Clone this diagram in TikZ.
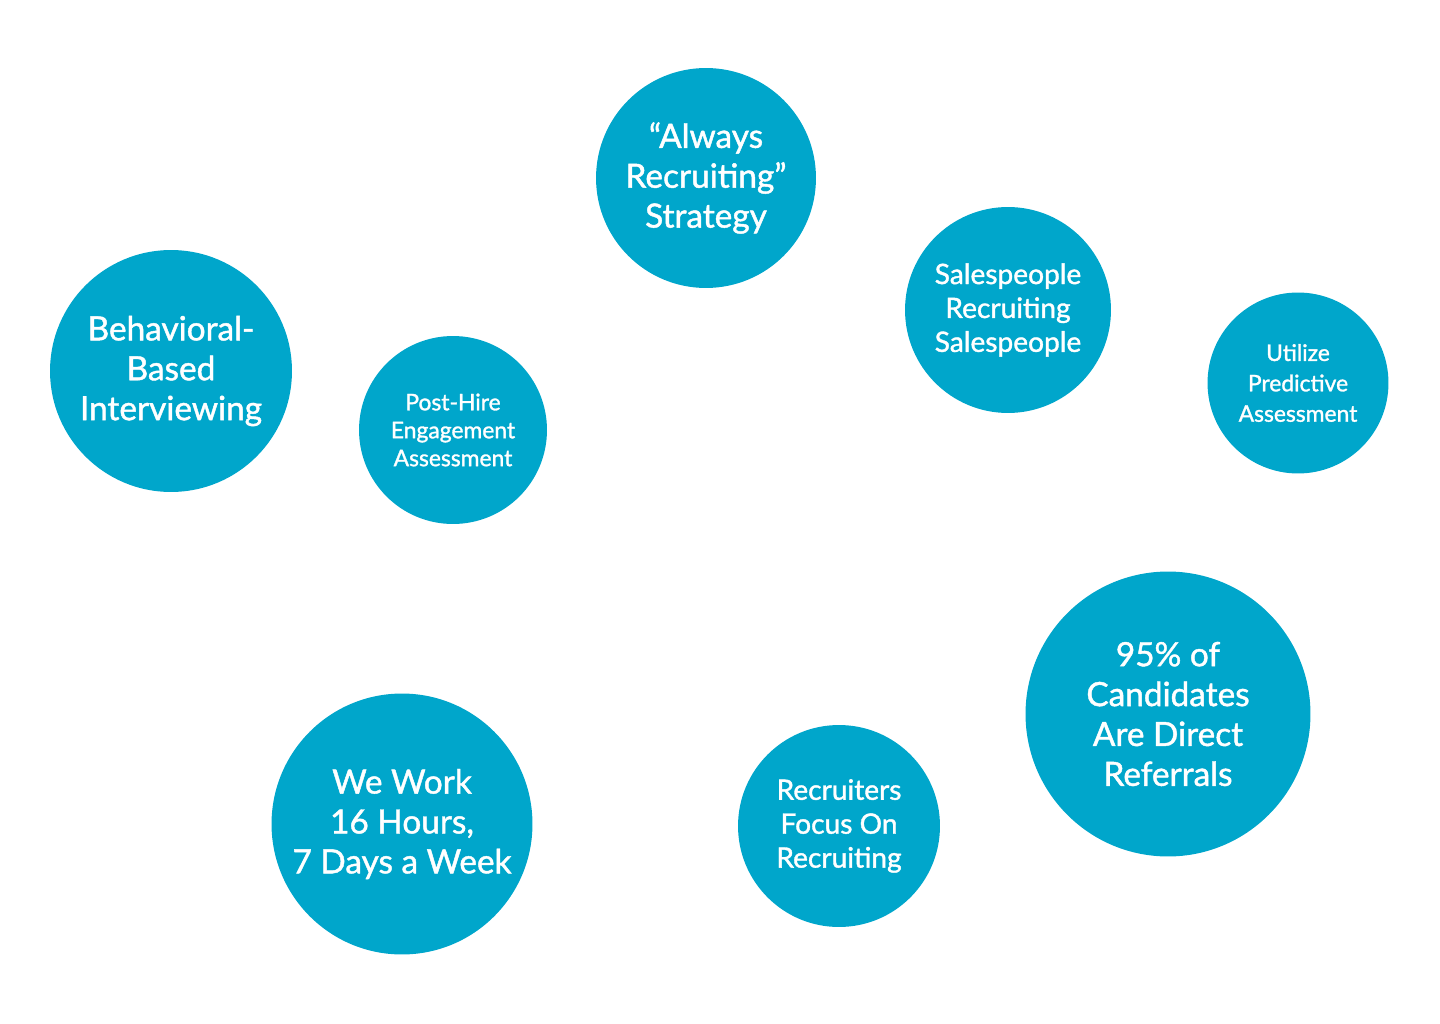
\documentclass[tikz,border=0pt]{standalone}
\usepackage{fontspec}
\setmainfont{Lato}[BoldFont=Lato, BoldFeatures={FakeBold=1.3}]
\usepackage{tikz}
\usetikzlibrary{positioning}
\definecolor{bubble}{HTML}{00A6CB}

\begin{document}
\begin{tikzpicture}[
  bub/.style={circle, fill=bubble, text=white, align=center, inner sep=0pt},
  big/.style={bub, font=\fontsize{19}{22.7}\selectfont\bfseries},
  mid/.style={bub, font=\fontsize{16}{19.3}\selectfont\bfseries},
  small/.style={bub, font=\fontsize{13}{15.9}\selectfont\bfseries},
  x=0.02cm, y=-0.02cm]
\useasboundingbox (0,0) rectangle (1440,1024);
\node[big, minimum size=4.4cm] (always) at (706,178) {``Always\\Recruiting''\\Strategy};
\node[mid, minimum size=4.12cm] (sales) at (1008,310) {Salespeople\\Recruiting\\Salespeople};
\node[small, minimum size=3.62cm, font=\fontsize{13}{17.3}\selectfont\bfseries] (predict) at (1298,383) {Utilize\\Predictive\\Assessment};
\node[big, minimum size=4.84cm] (behave) at (171,371) {Behavioral-\\Based\\Interviewing};
\node[small, minimum size=3.76cm] (posthire) at (453,430) {Post-Hire\\Engagement\\Assessment};
\node[big, minimum size=5.7cm] (referral) at (1168,714) {95\% of\\Candidates\\Are Direct\\Referrals};
\node[big, minimum size=5.22cm] (hours) at (402,824) {We Work\\16 Hours,\\7 Days a Week};
\node[mid, minimum size=4.04cm] (focus) at (839,826) {Recruiters\\Focus On\\Recruiting};
\end{tikzpicture}
\end{document}
